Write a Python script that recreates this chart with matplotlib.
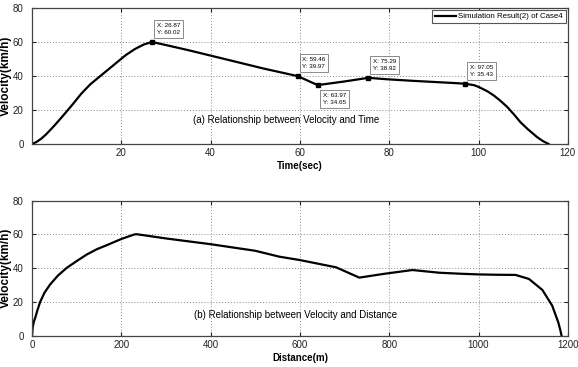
import matplotlib
matplotlib.use("Agg")
import matplotlib.pyplot as plt
import numpy as np

plt.rcParams['font.family'] = ['Liberation Sans Narrow', 'Liberation Sans', 'DejaVu Sans']

# a. speed profile over time (sec, km/h)
time_s = [0, 1, 2, 3, 4, 5, 7, 9, 11, 13, 16, 19, 21, 23, 25, 26.87,
          30, 35, 40, 45, 52, 59.46, 63.97, 70, 75.29, 80, 85, 90, 95,
          97.05, 99, 100, 102, 103.5, 105, 106.5, 108, 109.4, 111,
          113.1, 114.5, 115.7]
vel_t = [0, 1.2, 3, 5.3, 8, 10.8, 16.8, 23, 29.5, 35, 41.5, 48, 52.3,
         55.8, 58.5, 60.02, 58.2, 55.2, 52.0, 48.8, 44.3, 39.97, 34.65,
         36.8, 38.92, 38.0, 37.2, 36.5, 35.8, 35.43, 34.6, 33.6, 31.0,
         28.4, 25.2, 21.6, 17.2, 12.8, 8.8, 4.1, 1.6, 0]

# b. speed profile over distance (m, km/h)
dist_m = [0, 1.5, 4, 7.4, 12, 18.5, 28, 40.7, 58, 77.8, 100, 122, 145,
          170, 200, 229.6, 235, 300, 400, 500, 554, 600, 681, 733, 790,
          852, 912, 960, 1000, 1040, 1083, 1113, 1143, 1165, 1178.6,
          1183, 1186]
vel_d = [0, 4.9, 8.2, 10.8, 15, 20.2, 25.5, 30.4, 35.6, 40.2, 44.2, 48,
         51.2, 53.9, 57.3, 60, 60.1, 57.6, 54.2, 50.3, 46.8, 44.8, 40.5,
         34.4, 36.7, 38.9, 37.3, 36.7, 36.3, 36.1, 36, 33.6, 27.1, 17.8,
         7.9, 3.5, 0]

# c. data tips
tip_x = [26.87, 59.46, 63.97, 75.29, 97.05]
tip_y = [60.02, 39.97, 34.65, 38.92, 35.43]
tip_below = [False, False, True, False, False]

fig = plt.figure(figsize=(5.78, 3.67), dpi=100)
ax1 = fig.add_axes([0.0554, 0.6076, 0.927, 0.3706])
ax2 = fig.add_axes([0.0554, 0.0853, 0.927, 0.368])

def style(ax):
    ax.grid(True, linestyle=(0, (1, 2)), color='#888888', linewidth=0.7)
    ax.tick_params(direction='in', length=3, width=0.8, top=True, right=True,
                   labelsize=7, colors='#222222')
    ax.tick_params(axis='x', pad=3)
    ax.tick_params(axis='y', pad=6)
    for s in ax.spines.values():
        s.set_color('#444444')
        s.set_linewidth(0.9)
    ax.set_ylim(0, 80)
    ax.set_yticks([0, 20, 40, 60, 80])

# top plot
ax1.plot(time_s, vel_t, color='black', linewidth=1.6,
         label='Simulation Result(2) of Case4')
ax1.plot(tip_x, tip_y, 's', color='black', markersize=3.5)
for x, y, below in zip(tip_x, tip_y, tip_below):
    ax1.annotate('X: %.2f\nY: %.2f' % (x, y), (x, y),
                 xytext=(3.5, -5.5 if below else 5), textcoords='offset points',
                 ha='left', va='top' if below else 'bottom', fontsize=4.5,
                 linespacing=1.5,
                 bbox=dict(boxstyle='square,pad=0.45', fc='white',
                           ec='#777777', lw=0.6))
ax1.set_xlim(0, 120)
ax1.set_xticks([20, 40, 60, 80, 100, 120])
style(ax1)
ax1.text(57, 14, '(a) Relationship between Velocity and Time', ha='center',
         va='center', fontsize=7)
ax1.set_xlabel('Time(sec)', fontsize=7, fontweight='bold', labelpad=2)
ax1.set_ylabel('Velocity(km/h)', fontsize=8.5, fontweight='bold', labelpad=1)
leg = ax1.legend(loc='upper right', fontsize=5.7, handlelength=2.6,
                 borderaxespad=0.2, fancybox=False, framealpha=1,
                 borderpad=0.4, handletextpad=0.3)
leg.get_frame().set_edgecolor('#555555')
leg.get_frame().set_linewidth(0.8)

# bottom plot
ax2.plot(dist_m, vel_d, color='black', linewidth=1.6)
ax2.set_xlim(0, 1200)
ax2.set_xticks([0, 200, 400, 600, 800, 1000, 1200])
style(ax2)
ax2.text(590, 12.5, '(b) Relationship between Velocity and Distance',
         ha='center', va='center', fontsize=7)
ax2.set_xlabel('Distance(m)', fontsize=7, fontweight='bold', labelpad=2)
ax2.set_ylabel('Velocity(km/h)', fontsize=8.5, fontweight='bold', labelpad=1)

fig.savefig('out.png', dpi=100)
